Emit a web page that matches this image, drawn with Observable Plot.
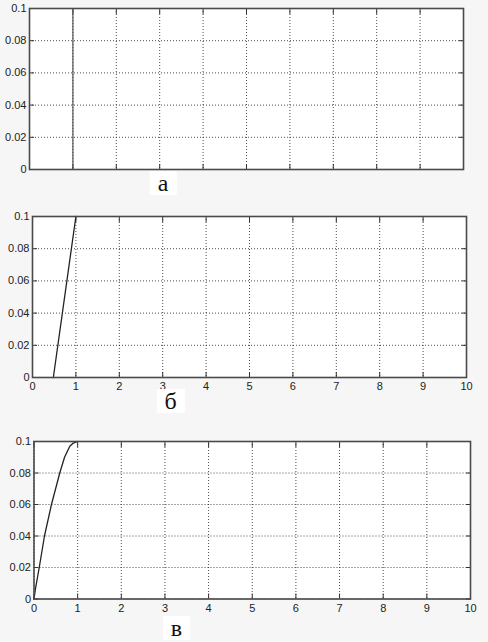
<!DOCTYPE html>
<html>
<head>
<meta charset="utf-8">
<script src="https://cdn.jsdelivr.net/npm/d3@7"></script>
<script src="https://cdn.jsdelivr.net/npm/@observablehq/plot@0.6"></script>
<style>
  html, body { margin: 0; padding: 0; background: #f6f6f6; }
  #root { position: relative; width: 488px; height: 642px; overflow: hidden; }
  .panel { position: absolute; left: 0; }
  .lab { position: absolute; font-family: "Liberation Serif", "Times New Roman", serif; font-size: 24px; line-height: 24px; color: #111; background: #fff; padding: 0 8px; transform: translateX(-50%); }
</style>
</head>
<body>
<div id="root"></div>
<script>
// ---- data ----
const xTicks = [0, 1, 2, 3, 4, 5, 6, 7, 8, 9, 10];
const xTickLabels = ["0", "1", "2", "3", "4", "5", "6", "7", "8", "9", "10"];
const yTicks = [0, 0.02, 0.04, 0.06, 0.08, 0.1];
const yTickLabels = ["0", "0.02", "0.04", "0.06", "0.08", "0.1"];
const panelLabels = ["а", "б", "в"];

// panel а: vertical step at t = 1
const aX = [1, 1];
const aY = [0, 0.1];
// panel б: linear ramp
const bX = [0.48, 1.0];
const bY = [0, 0.1];
// panel в: concave rise
const cX = [0, 0.03, 0.12, 0.24, 0.4, 0.59, 0.7, 0.82, 0.9, 1.0];
const cY = [0, 0.006, 0.02, 0.04, 0.06, 0.08, 0.09, 0.097, 0.099, 0.1];

const root = document.getElementById("root");

function panel({top, height, ml, mr, mt, mb, xs, ys, lineColor, lineWidth, showX}) {
  const data = xs.map((x, i) => ({x, y: ys[i]}));
  const fmtY = d => yTickLabels[yTicks.indexOf(d)];
  const fmtX = d => xTickLabels[xTicks.indexOf(d)];
  const tickStyle = {stroke: "#333", strokeWidth: 1, label: null};
  const marks = [
    Plot.frame({fill: "#fff", stroke: null}),
    Plot.gridX({ticks: xTicks, stroke: "#111", strokeOpacity: 0.75, strokeDasharray: "1,2"}),
    Plot.gridY({ticks: yTicks, stroke: "#111", strokeOpacity: 0.75, strokeDasharray: "1,2"}),
    // inward ticks on all four sides
    Plot.axisY({ticks: yTicks, anchor: "left", tickSize: 5, dx: 5, tickFormat: () => "", ...tickStyle}),
    Plot.axisY({ticks: yTicks, anchor: "right", tickSize: 5, dx: -5, tickFormat: () => "", ...tickStyle}),
    Plot.axisX({ticks: xTicks, anchor: "bottom", tickSize: 5, dy: -5, tickFormat: () => "", ...tickStyle}),
    Plot.axisX({ticks: xTicks, anchor: "top", tickSize: 5, dy: 5, tickFormat: () => "", ...tickStyle}),
    // labels
    Plot.axisY({ticks: yTicks, anchor: "left", tickSize: 0, tickPadding: 3, tickFormat: fmtY, fill: "#222", fontSize: 11, label: null}),
    Plot.line(data, {x: "x", y: "y", stroke: lineColor, strokeWidth: lineWidth}),
    Plot.frame({stroke: "#4a4a4a", strokeWidth: 1.6})
  ];
  if (showX) {
    marks.push(Plot.axisX({ticks: xTicks, anchor: "bottom", tickSize: 0, tickPadding: 5, tickFormat: fmtX, fill: "#222", fontSize: 11, label: null}));
  }
  const chart = Plot.plot({
    width: 488,
    height,
    marginLeft: ml,
    marginRight: mr,
    marginTop: mt,
    marginBottom: mb,
    style: {background: "transparent", fontFamily: "'Liberation Sans', Arial, sans-serif", fontSize: "11px"},
    x: {domain: [0, 10], label: null},
    y: {domain: [0, 0.1], label: null},
    marks
  });
  const wrap = document.createElement("div");
  wrap.className = "panel";
  wrap.style.top = top + "px";
  wrap.appendChild(chart);
  root.appendChild(wrap);
}

panel({top: 0, height: 180, ml: 29, mr: 25, mt: 8, mb: 11, xs: aX, ys: aY, lineColor: "#555", lineWidth: 1.2, showX: false});
panel({top: 200, height: 195, ml: 32, mr: 22, mt: 16, mb: 18, xs: bX, ys: bY, lineColor: "#222", lineWidth: 1.3, showX: true});
panel({top: 425, height: 195, ml: 33.5, mr: 18, mt: 16, mb: 21.5, xs: cX, ys: cY, lineColor: "#222", lineWidth: 1.3, showX: true});

const labPos = [[163, 170.5], [170.5, 389], [176.5, 615.5]];
panelLabels.forEach((t, i) => {
  const d = document.createElement("div");
  d.className = "lab";
  d.textContent = t;
  d.style.left = labPos[i][0] + "px";
  d.style.top = labPos[i][1] + "px";
  root.appendChild(d);
});
</script>
</body>
</html>
